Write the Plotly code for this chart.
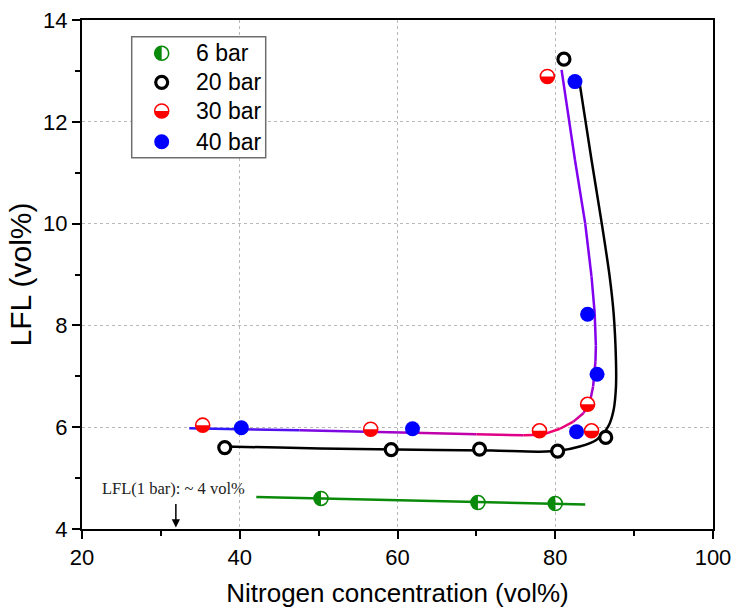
import plotly.graph_objects as go

# ---------------- data ----------------
n6_x = [50.3, 70.2, 80.0]
n6_y = [4.60, 4.52, 4.50]

n20_x = [38.1, 59.2, 70.4, 80.3, 86.4, 81.1]
n20_y = [5.60, 5.56, 5.57, 5.53, 5.80, 13.23]

n30_x = [35.3, 56.6, 78.0, 84.1, 84.6, 79.0]
n30_y = [6.04, 5.96, 5.93, 6.45, 5.93, 12.89]

n40_x = [40.2, 61.9, 82.7, 85.3, 84.1, 82.5]
n40_y = [5.99, 5.97, 5.91, 7.04, 8.22, 12.79]

fit6_x = [42.1, 83.8]
fit6_y = [4.63, 4.48]

fit20_x = [38.0, 45.0, 55.0, 65.0, 72.0, 78.0, 80.6, 83.1, 85.2, 86.7, 87.4, 87.7, 87.7, 87.4, 86.9, 85.9, 84.6, 83.1]
fit20_y = [5.62, 5.60, 5.57, 5.55, 5.54, 5.52, 5.54, 5.62, 5.75, 6.01, 6.34, 6.80, 7.30, 8.24, 8.96, 10.00, 11.25, 12.75]

fit3040_x = [33.6, 40.0, 47.6, 56.0, 62.0, 70.0, 76.0, 78.3, 80.6, 82.3, 83.6, 84.4, 84.8, 85.1, 85.15, 85.0, 84.6, 83.8, 82.5, 80.8]
fit3040_y = [5.98, 5.96, 5.94, 5.91, 5.89, 5.86, 5.84, 5.85, 5.97, 6.11, 6.28, 6.50, 6.80, 7.30, 7.60, 8.24, 8.96, 10.00, 11.25, 13.02]

legend_labels = ["6 bar", "20 bar", "30 bar", "40 bar"]

x_ticks = [20, 40, 60, 80, 100]
y_ticks = [4, 6, 8, 10, 12, 14]

note_text = "LFL(1 bar): ~ 4 vol%"
note_x = 31.9
note_y = 4.79
arrow_y = 4.03

# ---------------- styles ----------------
GREEN = "#0a8a0a"
RED = "#ff0000"
BLUE = "#0000ff"
BLACK = "#000000"
# colour of the 30/40-bar fit at each of its points (gradient look)
fit3040_colors = ["#3018ff", "#5010f0", "#7c08e2", "#a000c8", "#c000a8", "#e00088",
                  "#f00070", "#f00070", "#e8007a", "#d00098", "#b800b8", "#a000d0",
                  "#9000e0", "#8800e8", "#8400ee", "#8000f0", "#8000f0", "#8000f0",
                  "#8000f0", "#8000f0"]
R = 7.0
K = 0.5523 * R


def lower_half():
    return (f"M {-R},0 C {-R},{-K} {-K},{-R} 0,{-R} "
            f"C {K},{-R} {R},{-K} {R},0 Z")


def left_half():
    return (f"M 0,{R} C {-K},{R} {-R},{K} {-R},0 "
            f"C {-R},{-K} {-K},{-R} 0,{-R} Z")


fig = go.Figure()

# fits
fig.add_trace(go.Scatter(x=fit6_x, y=fit6_y, mode="lines",
                         line=dict(color=GREEN, width=2.5), showlegend=False, hoverinfo="skip"))
fig.add_trace(go.Scatter(x=fit20_x, y=fit20_y, mode="lines",
                         line=dict(color=BLACK, width=2.5, shape="spline", smoothing=0.8),
                         showlegend=False, hoverinfo="skip"))
for i in range(len(fit3040_x) - 1):
    fig.add_trace(go.Scatter(x=fit3040_x[i:i + 2], y=fit3040_y[i:i + 2], mode="lines",
                             line=dict(color=fit3040_colors[i], width=2.5),
                             showlegend=False, hoverinfo="skip"))

# points
fig.add_trace(go.Scatter(x=n6_x, y=n6_y, mode="markers", showlegend=False,
                         marker=dict(size=14, color="rgba(255,255,255,0)",
                                     line=dict(color=GREEN, width=1.6))))
fig.add_trace(go.Scatter(x=n20_x, y=n20_y, mode="markers", showlegend=False,
                         marker=dict(size=12, color="white",
                                     line=dict(color=BLACK, width=3.2))))
fig.add_trace(go.Scatter(x=n40_x, y=n40_y, mode="markers", showlegend=False,
                         marker=dict(size=15, color=BLUE, line=dict(width=0))))
fig.add_trace(go.Scatter(x=n30_x, y=n30_y, mode="markers", showlegend=False,
                         marker=dict(size=14, color="white",
                                     line=dict(color=RED, width=1.6))))

shapes = []
for x, y in zip(n30_x, n30_y):
    shapes.append(dict(type="path", xref="x", yref="y", xsizemode="pixel", ysizemode="pixel",
                       xanchor=x, yanchor=y, path=lower_half(), fillcolor=RED,
                       line=dict(width=0), layer="above"))
for x, y in zip(n6_x, n6_y):
    shapes.append(dict(type="path", xref="x", yref="y", xsizemode="pixel", ysizemode="pixel",
                       xanchor=x, yanchor=y, path=left_half(), fillcolor=GREEN,
                       line=dict(width=0), layer="above"))

# ---------------- custom legend ----------------
L, Rm, T, B = 82, 23, 20, 79
PW, PH = 736 - L - Rm, 608 - T - B


def px2paper(px, py):
    return (px - L) / PW, (608 - B - py) / PH


bx0, by0 = px2paper(131.7, 36.7)
bx1, by1 = px2paper(265.7, 157.7)
shapes.append(dict(type="rect", xref="paper", yref="paper", x0=bx0, x1=bx1, y0=by1, y1=by0,
                   line=dict(color="#6e6e6e", width=1.5), fillcolor="white", layer="above"))
row_py = [53.3, 82.3, 111.0, 141.7]
mx, _ = px2paper(161.7, 0)
tx, _ = px2paper(194.0, 0)
annotations = []
for i, lab in enumerate(legend_labels):
    _, ry = px2paper(0, row_py[i])
    annotations.append(dict(xref="paper", yref="paper", x=tx, y=ry, text=lab, showarrow=False,
                            xanchor="left", yanchor="middle",
                            font=dict(family="Liberation Sans, Arial", size=23, color="black")))
    base = dict(xref="paper", yref="paper", xsizemode="pixel", ysizemode="pixel",
                xanchor=mx, yanchor=ry, layer="above")
    if i == 0:
        shapes.append(dict(base, type="circle", x0=-R, x1=R, y0=-R, y1=R,
                           fillcolor="white", line=dict(color=GREEN, width=1.6)))
        shapes.append(dict(base, type="path", path=left_half(), fillcolor=GREEN, line=dict(width=0)))
    elif i == 1:
        shapes.append(dict(base, type="circle", x0=-6, x1=6, y0=-6, y1=6,
                           fillcolor="white", line=dict(color=BLACK, width=3.2)))
    elif i == 2:
        shapes.append(dict(base, type="circle", x0=-R, x1=R, y0=-R, y1=R,
                           fillcolor="white", line=dict(color=RED, width=1.6)))
        shapes.append(dict(base, type="path", path=lower_half(), fillcolor=RED, line=dict(width=0)))
    else:
        shapes.append(dict(base, type="circle", x0=-7.5, x1=7.5, y0=-7.5, y1=7.5,
                           fillcolor=BLUE, line=dict(width=0)))

# note + arrow
annotations.append(dict(x=note_x - 0.3, y=note_y, xref="x", yref="y", text=note_text, showarrow=False,
                        font=dict(family="Liberation Serif, Times New Roman", size=16.5, color="#222222")))
annotations.append(dict(x=note_x, y=arrow_y, xref="x", yref="y", text="", showarrow=True,
                        ax=0, ay=-25, arrowhead=2, arrowsize=1.1, arrowwidth=1.5, arrowcolor="black"))

axis_common = dict(showline=True, linewidth=2, linecolor="black", mirror=True,
                   ticks="outside", ticklen=8, tickwidth=2, tickcolor="black",
                   showgrid=True, gridcolor="#b8b8b8", griddash="dot", gridwidth=1,
                   zeroline=False, automargin=False,
                   tickfont=dict(family="Liberation Sans, Arial", size=22, color="black"))

fig.update_layout(
    width=736, height=608,
    margin=dict(l=L, r=Rm, t=T, b=B),
    paper_bgcolor="white", plot_bgcolor="white",
    showlegend=False,
    shapes=shapes, annotations=annotations,
    xaxis=dict(axis_common, range=[20, 100], tickvals=x_ticks,
               minor=dict(dtick=10, tick0=20, ticklen=5, tickwidth=2, tickcolor="black",
                          ticks="outside", showgrid=False),
               title=dict(text="Nitrogen concentration (vol%)", standoff=22,
                          font=dict(family="Liberation Sans, Arial", size=26, color="black"))),
    yaxis=dict(axis_common, range=[4, 14], tickvals=y_ticks,
               minor=dict(dtick=1, tick0=4, ticklen=5, tickwidth=2, tickcolor="black",
                          ticks="outside", showgrid=False),
               title=dict(text="LFL (vol%)", standoff=3,
                          font=dict(family="Liberation Sans, Arial", size=30, color="black"))),
)

fig.write_html("out.html")
